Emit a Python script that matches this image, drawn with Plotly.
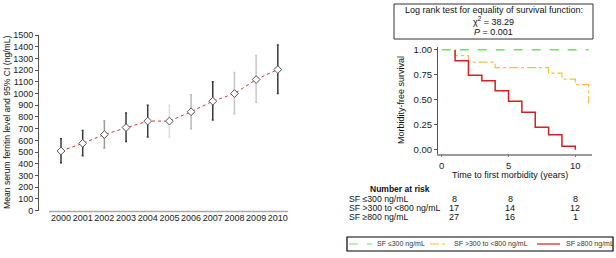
import plotly.graph_objects as go

W, H = 616, 258
FONT = "Liberation Sans, Arial, sans-serif"

# ---- Left chart data ----
years = [2000, 2001, 2002, 2003, 2004, 2005, 2006, 2007, 2008, 2009, 2010]
ferritin_mean = [510, 575, 650, 710, 765, 765, 845, 935, 1000, 1120, 1205]
ci_low = [410, 470, 535, 590, 630, 630, 700, 775, 825, 925, 1000]
ci_high = [615, 685, 765, 835, 900, 900, 990, 1100, 1180, 1325, 1415]
bar_colors = ["#3a3a3a", "#3a3a3a", "#9a9a9a", "#3a3a3a", "#3a3a3a", "#dddddd",
              "#b8b8b8", "#3a3a3a", "#c4c4c4", "#c8c8c8", "#3a3a3a"]

# ---- Right chart data ----
red_t = [1, 1, 2, 3, 4, 5, 6, 7, 8, 9, 10]
red_s = [1.0, 0.89, 0.745, 0.69, 0.59, 0.485, 0.375, 0.225, 0.15, 0.035, 0.0]
yel_t = [1, 1, 2, 4, 8, 9, 10, 11]
yel_s = [1.0, 0.94, 0.875, 0.82, 0.765, 0.705, 0.65, 0.465]
grn_t = [0, 11]
grn_s = [1.0, 1.0]
group_names = ["SF \u2264300 ng/mL", "SF >300 to <800 ng/mL", "SF \u2265800 ng/mL"]
group_colors = ["#77dd66", "#f2c040", "#d42020"]
group_dash = ["dash", "dashdot", "solid"]
risk_counts = [[8, 8, 8], [17, 14, 12], [27, 16, 1]]


def px(x):
    return x / W


def py(y):
    return 1 - y / H


fig = go.Figure()

# error bars
for yr, m, lo, hi, c in zip(years, ferritin_mean, ci_low, ci_high, bar_colors):
    fig.add_trace(go.Scatter(
        x=[yr], y=[m], mode="markers", marker=dict(size=1, opacity=0),
        error_y=dict(type="data", symmetric=False, array=[hi - m], arrayminus=[m - lo],
                     color=c, thickness=1.5, width=1),
        showlegend=False, hoverinfo="skip", xaxis="x", yaxis="y"))

fig.add_trace(go.Scatter(
    x=years, y=ferritin_mean, mode="lines+markers",
    line=dict(color="#e03030", width=1, dash="dot"),
    marker=dict(symbol="diamond", size=6, color="white", line=dict(color="#555", width=1)),
    showlegend=False, xaxis="x", yaxis="y"))

# survival curves
for t, s, name, col, dash, w in zip([grn_t, yel_t, red_t], [grn_s, yel_s, red_s],
                                     group_names, group_colors, group_dash, [1.5, 1.2, 1.5]):
    fig.add_trace(go.Scatter(x=t, y=s, mode="lines", line_shape="hv",
                             line=dict(color=col, width=w, dash=dash),
                             name=name, showlegend=False, xaxis="x2", yaxis="y2"))

tickfont_l = dict(family=FONT, size=9, color="#222")
tickfont_r = dict(family=FONT, size=9.5, color="#222")

fig.update_layout(
    width=W, height=H, margin=dict(l=0, r=0, t=0, b=0, autoexpand=False),
    paper_bgcolor="white", plot_bgcolor="white",
    font=dict(family=FONT, size=9, color="#111"),
    showlegend=False,
    xaxis=dict(domain=[px(39), px(288)], range=[1998.985, 2010.47],
               tickvals=years, ticktext=[str(y) for y in years],
               showline=False, showgrid=False, zeroline=False, ticks="",
               tickfont=tickfont_l, automargin=False, tickangle=0),
    yaxis=dict(domain=[py(210.7), py(35)], range=[0, 1500], dtick=100,
               showline=True, linecolor="#555", linewidth=1, ticks="outside",
               ticklen=3, tickcolor="#555", showgrid=False, zeroline=False,
               tickfont=tickfont_l, automargin=False),
    xaxis2=dict(domain=[px(438), px(592)], range=[-0.28, 11.25], anchor="y2",
                tickvals=[0, 5, 10], showline=True, linecolor="#999", linewidth=1.5,
                ticks="outside", ticklen=2, tickcolor="#777",
                showgrid=False, zeroline=False, tickfont=tickfont_r, automargin=False),
    yaxis2=dict(domain=[py(153.7), py(46.7)], range=[-0.04, 1.03], anchor="x2",
                tickvals=[0, 0.25, 0.5, 0.75, 1.0], tickformat=".2f",
                showline=True, linecolor="#555", linewidth=1, ticks="outside",
                ticklen=3, tickcolor="#555", showgrid=False, zeroline=False,
                tickfont=tickfont_r, automargin=False),
)

# axis titles as annotations
fig.add_annotation(text="Mean serum ferritin level and 95% CI (ng/mL)", xref="paper", yref="paper",
                   x=px(7), y=py(122), textangle=-90, showarrow=False,
                   xanchor="center", yanchor="middle", font=dict(family=FONT, size=8.6, color="#111"))
fig.add_annotation(text="Morbidity-free survival", xref="paper", yref="paper",
                   x=px(401), y=py(100), textangle=-90, showarrow=False,
                   xanchor="center", yanchor="middle", font=dict(family=FONT, size=9, color="#111"))
fig.add_annotation(text="Time to first morbidity (years)", xref="paper", yref="paper",
                   x=px(510), y=py(175), showarrow=False,
                   xanchor="center", yanchor="middle", font=dict(family=FONT, size=9, color="#111"))

# x axis line for left chart (offset from y axis)
fig.add_shape(type="line", xref="x", yref="paper", x0=1999.45, x1=2010.47,
              y0=py(211.5), y1=py(211.5), line=dict(color="#aaa", width=1.5))

# log rank box
fig.add_shape(type="rect", xref="paper", yref="paper", x0=px(394), x1=px(593),
              y0=py(39), y1=py(4), line=dict(color="#333", width=1))
box_lines = ["Log rank test for equality of survival function:",
             "\u03c7<sup>2</sup> = 38.29", "<i>P</i> = 0.001"]
for txt, yy in zip(box_lines, [10, 21, 32]):
    fig.add_annotation(text=txt, xref="paper", yref="paper", x=px(493.5), y=py(yy),
                       showarrow=False, xanchor="center", yanchor="middle",
                       font=dict(family=FONT, size=9, color="#111"))

# number at risk table
fig.add_annotation(text="<b>Number at risk</b>", xref="paper", yref="paper",
                   x=px(400), y=py(188.5), showarrow=False, xanchor="center", yanchor="middle",
                   font=dict(family=FONT, size=8.5, color="#111"))
col_x = [454, 510, 575]
for i, (name, counts) in enumerate(zip(group_names, risk_counts)):
    yy = 198.5 + 9 * i
    fig.add_annotation(text=name, xref="paper", yref="paper", x=px(347), y=py(yy),
                       showarrow=False, xanchor="left", yanchor="middle",
                       font=dict(family=FONT, size=8.7, color="#111"))
    for cx, c in zip(col_x, counts):
        fig.add_annotation(text=str(c), xref="paper", yref="paper", x=px(cx), y=py(yy),
                           showarrow=False, xanchor="center", yanchor="middle",
                           font=dict(family=FONT, size=9, color="#111"))

# manual legend box
fig.add_shape(type="rect", xref="paper", yref="paper", x0=px(347), x1=px(613),
              y0=py(251), y1=py(237), line=dict(color="black", width=1.2), fillcolor="white")
leg_line_x = [(349, 372), (430, 448), (537, 560)]
leg_text_x = [375, 452, 564]
for (lx0, lx1), tx, name, col, dash in zip(leg_line_x, leg_text_x, group_names, group_colors, group_dash):
    fig.add_shape(type="line", xref="paper", yref="paper", x0=px(lx0), x1=px(lx1),
                  y0=py(244), y1=py(244), line=dict(color=col, width=1.2, dash=dash))
    fig.add_annotation(text=name, xref="paper", yref="paper", x=px(tx), y=py(244),
                       showarrow=False, xanchor="left", yanchor="middle",
                       font=dict(family=FONT, size=7, color="#333"))

fig.write_html("out.html", config={"displayModeBar": False},
               post_script="document.body.style.margin='0';document.body.style.padding='0';"
                           "document.documentElement.style.overflow='hidden';")
